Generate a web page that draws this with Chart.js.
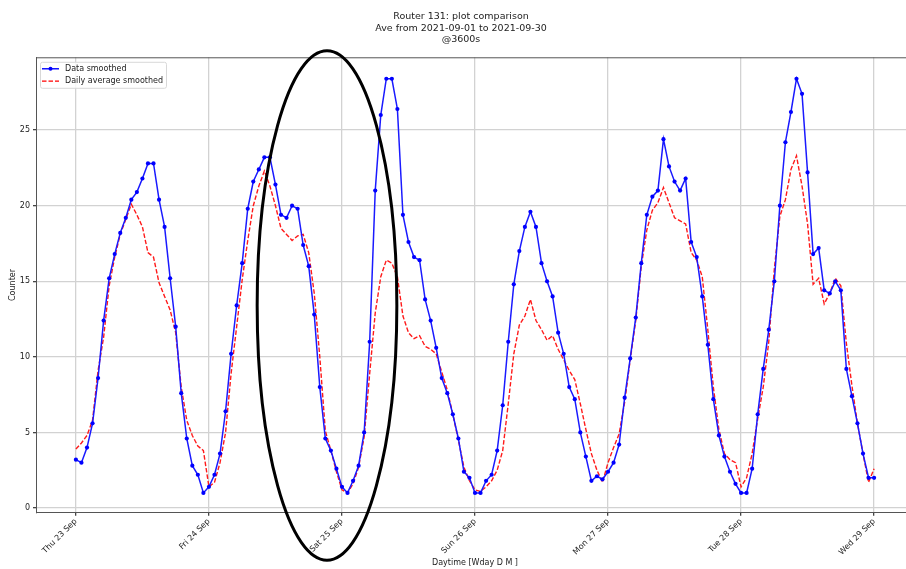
<!DOCTYPE html>
<html>
<head>
<meta charset="utf-8">
<style>
  html, body { margin: 0; padding: 0; overflow: hidden; background: #fff; }
</style>
</head>
<body>
<canvas id="routerChart" width="950" height="569"></canvas>

<script src="https://cdn.jsdelivr.net/npm/chart.js"></script>

<script>
  // hourly samples, Thu 23 Sep 00:00 .. Wed 29 Sep 00:00
  const dayLabels = ['Thu 23 Sep', 'Fri 24 Sep', 'Sat 25 Sep', 'Sun 26 Sep', 'Mon 27 Sep', 'Tue 28 Sep', 'Wed 29 Sep'];
  const yTicks = [0, 5, 10, 15, 20, 25];

  const dataSmoothed = [
      // Thu
      3.2, 3.0, 4.0, 5.6, 8.6, 12.4, 15.2, 16.8, 18.2, 19.2, 20.4, 20.9,
      21.8, 22.8, 22.8, 20.4, 18.6, 15.2, 12.0, 7.6, 4.6, 2.8, 2.2, 1.0,
      // Fri
      1.4, 2.2, 3.6, 6.4, 10.2, 13.4, 16.2, 19.8, 21.6, 22.4, 23.2, 23.2,
      21.4, 19.4, 19.2, 20.0, 19.8, 17.4, 16.0, 12.8, 8.0, 4.6, 3.8, 2.6,
      // Sat
      1.4, 1.0, 1.8, 2.8, 5.0, 11.0, 21.0, 26.0, 28.4, 28.4, 26.4, 19.4,
      17.6, 16.6, 16.4, 13.8, 12.4, 10.6, 8.6, 7.6, 6.2, 4.6, 2.4, 2.0,
      // Sun
      1.0, 1.0, 1.8, 2.2, 3.8, 6.8, 11.0, 14.8, 17.0, 18.6, 19.6, 18.6,
      16.2, 15.0, 14.0, 11.6, 10.2, 8.0, 7.2, 5.0, 3.4, 1.8, 2.1, 1.9,
      // Mon
      2.4, 3.0, 4.2, 7.3, 9.9, 12.6, 16.2, 19.4, 20.6, 21.0, 24.4, 22.6,
      21.6, 21.0, 21.8, 17.6, 16.6, 14.0, 10.8, 7.2, 4.8, 3.4, 2.4, 1.6,
      // Tue
      1.0, 1.0, 2.6, 6.2, 9.2, 11.8, 15.0, 20.0, 24.2, 26.2, 28.4, 27.4,
      22.2, 16.8, 17.2, 14.4, 14.2, 15.0, 14.4, 9.2, 7.4, 5.6, 3.6, 2.0,
      // Wed
      2.0
  ];

  const dailyAverage = [
      // Thu
      3.9, 4.3, 4.8, 5.8, 9.1, 11.3, 14.7, 16.6, 18.1, 19.1, 20.1, 19.4,
      18.6, 16.9, 16.6, 14.9, 14.0, 13.1, 11.6, 8.0, 5.8, 4.8, 4.1, 3.8,
      // Fri
      1.4, 1.7, 3.0, 5.0, 8.9, 12.0, 15.1, 17.7, 20.0, 21.3, 22.3, 21.3,
      20.0, 18.5, 18.1, 17.7, 18.0, 18.1, 16.9, 14.2, 10.0, 5.1, 3.8, 2.4,
      // Sat
      1.2, 1.0, 1.6, 2.7, 4.7, 8.9, 12.9, 15.3, 16.4, 16.2, 15.3, 12.7,
      11.6, 11.2, 11.4, 10.7, 10.5, 10.2, 9.0, 7.8, 6.2, 4.5, 2.7, 1.8,
      // Sun
      1.2, 1.1, 1.4, 1.8, 2.5, 3.8, 6.9, 10.2, 12.1, 12.7, 13.8, 12.4,
      11.8, 11.1, 11.4, 10.5, 9.8, 9.1, 8.5, 6.9, 5.2, 3.6, 2.5, 1.7,
      // Mon
      3.0, 4.0, 4.9, 7.0, 9.8, 12.4, 16.0, 18.4, 19.7, 20.2, 21.2, 20.2,
      19.2, 19.0, 18.8, 16.9, 16.4, 15.3, 11.8, 8.0, 5.2, 3.6, 3.2, 3.0,
      // Tue
      1.4, 2.0, 3.6, 5.9, 8.0, 11.0, 15.8, 19.3, 20.4, 22.4, 23.3, 21.3,
      18.8, 14.8, 15.2, 13.5, 14.2, 15.2, 14.7, 10.9, 8.1, 5.6, 3.6, 1.7,
      // Wed
      2.6
  ];

  const hours = dataSmoothed.map((v, i) => i);

  // hand-drawn circle around Fri night / Sat morning (data units)
  const circleCenter = [45.3, 13.4];
  const circleHalfSize = [12.6, 16.85];

  const FONT = 'DejaVu Sans';

  const decorations = {
      id: 'decorations',
      beforeDatasetsDraw(chart) {
          // top spine
          const {ctx, chartArea} = chart;
          ctx.save();
          ctx.strokeStyle = '#555';
          ctx.lineWidth = 1;
          ctx.beginPath();
          ctx.moveTo(chartArea.left, chartArea.top + 0.5);
          ctx.lineTo(chartArea.right, chartArea.top + 0.5);
          ctx.stroke();
          ctx.restore();
      },
      afterDraw(chart) {
          const {ctx, chartArea, scales} = chart;
          ctx.save();

          // legend box, top-left inside the axes
          const bx = chartArea.left + 4, by = chartArea.top + 4.5;
          ctx.fillStyle = 'rgba(255,255,255,0.85)';
          ctx.strokeStyle = '#d8d8d8';
          ctx.lineWidth = 1;
          ctx.beginPath();
          ctx.roundRect(bx + 0.5, by + 0.5, 126, 26, 2);
          ctx.fill();
          ctx.stroke();

          const rows = [
              {label: 'Data smoothed', color: '#0000ff', dash: [], dot: true},
              {label: 'Daily average smoothed', color: '#ff0000', dash: [4.5, 2], dot: false},
          ];
          ctx.font = '8px "' + FONT + '"';
          ctx.textBaseline = 'middle';
          rows.forEach((r, i) => {
              const y = by + 7 + i * 12.3;
              ctx.strokeStyle = r.color;
              ctx.lineWidth = 1.4;
              ctx.setLineDash(r.dash);
              ctx.beginPath();
              ctx.moveTo(bx + 2, y);
              ctx.lineTo(bx + 19, y);
              ctx.stroke();
              ctx.setLineDash([]);
              if (r.dot) {
                  ctx.fillStyle = r.color;
                  ctx.beginPath();
                  ctx.arc(bx + 10.5, y, 2, 0, Math.PI * 2);
                  ctx.fill();
              }
              ctx.fillStyle = '#222';
              ctx.fillText(r.label, bx + 25, y);
          });

          // the black ellipse
          const cx = scales.x.getPixelForValue(circleCenter[0]);
          const cy = scales.y.getPixelForValue(circleCenter[1]);
          const rx = scales.x.getPixelForValue(circleCenter[0] + circleHalfSize[0]) - cx;
          const ry = cy - scales.y.getPixelForValue(circleCenter[1] + circleHalfSize[1]);
          ctx.strokeStyle = '#000';
          ctx.lineWidth = 3;
          ctx.beginPath();
          ctx.ellipse(cx, cy, rx, ry, 0, 0, Math.PI * 2);
          ctx.stroke();
          ctx.restore();
      }
  };

  const ctx = document.getElementById('routerChart');
  const routerChart = new Chart(ctx, {
      type: 'line',
      plugins: [decorations],
      data: {
          labels: hours,
          datasets: [
              {
                  label: 'Data smoothed',
                  data: dataSmoothed.map((v, i) => ({x: hours[i], y: v})),
                  borderColor: '#1a1aff',
                  backgroundColor: '#0000ff',
                  borderWidth: 1.5,
                  pointRadius: 2.1,
                  pointBorderWidth: 0,
                  pointBackgroundColor: '#0000ff',
                  tension: 0,
                  order: 1,
              },
              {
                  label: 'Daily average smoothed',
                  data: dailyAverage.map((v, i) => ({x: hours[i], y: v})),
                  borderColor: '#ff1a1a',
                  backgroundColor: '#ff0000',
                  borderWidth: 1.4,
                  borderDash: [4.5, 2],
                  pointRadius: 0,
                  tension: 0,
                  order: 2,
              },
          ]
      },
      options: {
          responsive: false,
          animation: false,
          devicePixelRatio: 1,
          layout: {
              padding: {left: 8, right: 36, top: 0, bottom: 0}
          },
          plugins: {
              legend: {display: false},
              tooltip: {enabled: false},
              title: {
                  display: true,
                  text: ['Router 131: plot comparison', 'Ave from 2021-09-01 to 2021-09-30', '@3600s'],
                  color: '#222',
                  font: {family: FONT, size: 9.5, weight: 'normal', lineHeight: 1.21},
                  padding: {top: 11, bottom: 11.8},
              },
          },
          scales: {
              x: {
                  type: 'linear',
                  min: -7.2,
                  max: 151.2,
                  afterBuildTicks: (scale) => {
                      scale.ticks = dayLabels.map((d, i) => ({value: i * 24}));
                  },
                  afterFit: (scale) => { scale.height = 56.3; },
                  ticks: {
                      callback: (v) => dayLabels[Math.round(v / 24)],
                      minRotation: 45,
                      maxRotation: 45,
                      autoSkip: false,
                      padding: 1,
                      color: '#222',
                      font: {family: FONT, size: 8},
                  },
                  grid: {color: '#d2d2d2', lineWidth: 1.3, tickLength: 3, tickColor: '#444'},
                  border: {color: '#555', width: 1},
                  title: {
                      display: true,
                      text: 'Daytime [Wday D M ]',
                      color: '#222',
                      font: {family: FONT, size: 8},
                      padding: {top: 0, bottom: 1},
                  },
              },
              y: {
                  min: -0.31,
                  max: 29.82,
                  afterBuildTicks: (scale) => {
                      scale.ticks = yTicks.map(v => ({value: v}));
                  },
                  afterFit: (scale) => { scale.width = 28; },
                  ticks: {
                      padding: 3,
                      color: '#222',
                      font: {family: FONT, size: 8},
                  },
                  grid: {color: '#d2d2d2', lineWidth: 1.3, tickLength: 3, tickColor: '#444'},
                  border: {color: '#555', width: 1},
                  title: {
                      display: true,
                      text: 'Counter',
                      color: '#222',
                      font: {family: FONT, size: 8},
                      padding: {top: 0, bottom: 0},
                  },
              },
          }
      }
  });
</script>
</body>
</html>
